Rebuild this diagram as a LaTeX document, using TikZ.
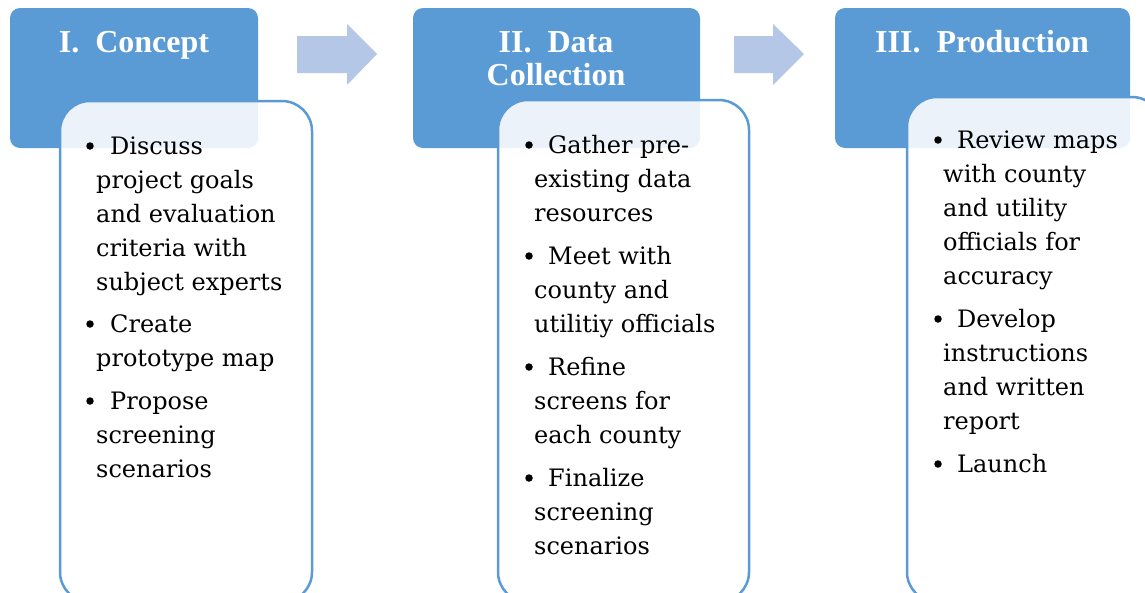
\documentclass[tikz,border=0pt]{standalone}
\usepackage{fontspec}
\setmainfont{DejaVu Serif}
\newfontfamily\headfont{Liberation Serif}
\definecolor{hdblue}{HTML}{5B9BD5}
\definecolor{arrblue}{HTML}{B4C7E7}
\tikzset{
  header/.style={fill=hdblue, rounded corners=10pt},
  content/.style={draw=hdblue, line width=2.5pt, fill=white, fill opacity=0.88, rounded corners=30pt},
  flowarrow/.style={fill=arrblue},
  htext/.style={text=white, font={\headfont\bfseries\fontsize{32}{33}\selectfont}, inner sep=0pt, anchor=base},
  btext/.style={font={\fontsize{24}{34}\selectfont}, inner sep=0pt, anchor=base west, text=black},
  bdot/.style={circle, fill=black, inner sep=0pt, minimum size=7.5pt},
}
\begin{document}
\begin{tikzpicture}[x=1pt,y=-1pt]
\useasboundingbox (0,0) rectangle (1145,592);
\clip (0,0) rectangle (1145,592);
% headers
\path[header] (10,8) rectangle (258,148);
\path[header] (413,8) rectangle (700,148);
\path[header] (835,8) rectangle (1130,148);
% arrows
\path[flowarrow] (297,36) -- (347,36) -- (347,24) -- (377,54) -- (347,85) -- (347,73) -- (297,73) -- cycle;
\path[flowarrow] (734,36) -- (773,36) -- (773,24) -- (804,54) -- (773,85) -- (773,73) -- (734,73) -- cycle;
% content boxes
\path[content] (60,101) rectangle (312,602);
\path[content] (498,100) rectangle (749,602);
\path[content] (907,97) rectangle (1162,602);
% header texts
\node[htext] (h1) at (134,52) {I.\ \ Concept};
\node[htext] (h2a) at (556,52) {II.\ \ Data};
\node[htext] (h2b) at (556,85) {Collection};
\node[htext] (h3) at (982,52) {III.\ \ Production};
% box 1
\node[bdot] (b1a) at (90,146) {};
\node[btext] (t1a) at (110,154) {Discuss};
\node[btext] (t1b) at (96,188) {project goals};
\node[btext] (t1c) at (96,222) {and evaluation};
\node[btext] (t1d) at (96,256) {criteria with};
\node[btext] (t1e) at (96,290) {subject experts};
\node[bdot] (b1b) at (90,324) {};
\node[btext] (t1f) at (110,332) {Create};
\node[btext] (t1g) at (96,366) {prototype map};
\node[bdot] (b1c) at (90,401) {};
\node[btext] (t1h) at (110,409) {Propose};
\node[btext] (t1i) at (96,443) {screening};
\node[btext] (t1j) at (96,477) {scenarios};
% box 2
\node[bdot] (b2a) at (529,145) {};
\node[btext] (t2a) at (548,153) {Gather pre-};
\node[btext] (t2b) at (534,187) {existing data};
\node[btext] (t2c) at (534,221) {resources};
\node[bdot] (b2b) at (529,256) {};
\node[btext] (t2d) at (548,264) {Meet with};
\node[btext] (t2e) at (534,298) {county and};
\node[btext] (t2f) at (534,332) {utilitiy officials};
\node[bdot] (b2c) at (529,367) {};
\node[btext] (t2g) at (548,375) {Refine};
\node[btext] (t2h) at (534,409) {screens for};
\node[btext] (t2i) at (534,443) {each county};
\node[bdot] (b2d) at (529,478) {};
\node[btext] (t2j) at (548,486) {Finalize};
\node[btext] (t2k) at (534,520) {screening};
\node[btext] (t2l) at (534,554) {scenarios};
% box 3
\node[bdot] (b3a) at (938,140) {};
\node[btext] (t3a) at (957,148) {Review maps};
\node[btext] (t3b) at (943,182) {with county};
\node[btext] (t3c) at (943,216) {and utility};
\node[btext] (t3d) at (943,250) {officials for};
\node[btext] (t3e) at (943,284) {accuracy};
\node[bdot] (b3b) at (938,319) {};
\node[btext] (t3f) at (957,327) {Develop};
\node[btext] (t3g) at (943,361) {instructions};
\node[btext] (t3h) at (943,395) {and written};
\node[btext] (t3i) at (943,429) {report};
\node[bdot] (b3c) at (938,464) {};
\node[btext] (t3j) at (957,472) {Launch};
\end{tikzpicture}
\end{document}
